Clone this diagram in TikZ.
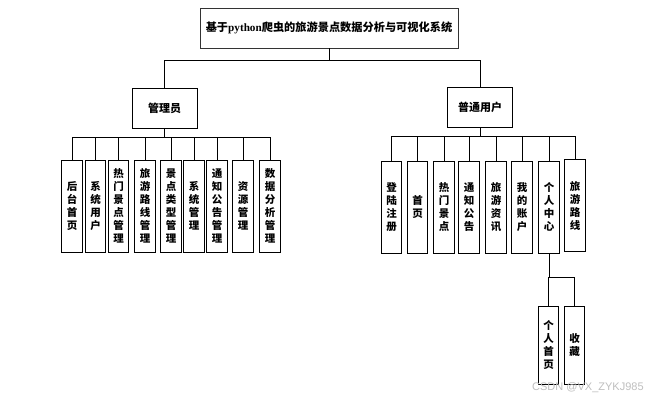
\documentclass[tikz,border=0pt]{standalone}
\usepackage{fontspec}
\setmainfont{Liberation Serif}
\newfontfamily\cjk{Noto Sans CJK SC}
\newfontfamily\wmfont{Liberation Sans}
\begin{document}
\begin{tikzpicture}[x=1pt,y=-1pt,
  conn/.style={draw=black,line width=0.9pt},
  topbox/.style={draw=black!80,line width=0.9pt,minimum width=258pt,minimum height=40pt,inner sep=0pt,font=\cjk\bfseries\fontsize{11.2}{14}\selectfont},
  midbox/.style={draw=black,line width=0.9pt,minimum width=65pt,minimum height=40pt,inner sep=0pt,font=\cjk\bfseries\fontsize{11}{13}\selectfont},
  leaf/.style={draw=black,line width=1pt,minimum width=20.5pt,minimum height=92pt,inner sep=0pt,align=center,font=\cjk\bfseries\fontsize{10.5}{13}\selectfont},
  subleaf/.style={leaf,minimum height=78pt},
  wm/.style={font=\wmfont\fontsize{11}{13}\selectfont,text=black!25,inner sep=0pt}
]
\useasboundingbox[fill=white] (0,0) rectangle (655,402);

% title
\node[topbox] (top) at (329,28) {基于\textrm{\bfseries python}爬虫的旅游景点数据分析与可视化系统};

% second level
\node[midbox] (admin) at (164.5,108) {管理员};
\node[midbox] (user) at (480,107) {普通用户};

\coordinate (tbus) at (329,60);
\draw[conn] (top.south) -- (tbus);
\draw[conn] (admin.north) |- (tbus);
\draw[conn] (user.north) |- (tbus);

% admin leaves
\node[leaf] (a1) at (72,206) {后\\台\\首\\页};
\node[leaf] (a2) at (95.5,206) {系\\统\\用\\户};
\node[leaf] (a3) at (118.5,206) {热\\门\\景\\点\\管\\理};
\node[leaf] (a4) at (145,206) {旅\\游\\路\\线\\管\\理};
\node[leaf] (a5) at (171,206) {景\\点\\类\\型\\管\\理};
\node[leaf] (a6) at (194,206) {系\\统\\管\\理};
\node[leaf] (a7) at (217,206) {通\\知\\公\\告\\管\\理};
\node[leaf] (a8) at (243,206) {资\\源\\管\\理};
\node[leaf] (a9) at (270,206) {数\\据\\分\\析\\管\\理};

\coordinate (abus) at (164.5,137);
\draw[conn] (admin.south) -- (abus);
\foreach \n in {a1,a2,a3,a4,a5,a6,a7,a8,a9}{
  \draw[conn] (\n.north) |- (abus);
}

% user leaves
\node[leaf] (u1) at (391.5,207) {登\\陆\\注\\册};
\node[leaf] (u2) at (417.5,207) {首\\页};
\node[leaf] (u3) at (444,207) {热\\门\\景\\点};
\node[leaf] (u4) at (469,207) {通\\知\\公\\告};
\node[leaf] (u5) at (496,207) {旅\\游\\资\\讯};
\node[leaf] (u6) at (522,207) {我\\的\\账\\户};
\node[leaf] (u7) at (549,207) {个\\人\\中\\心};
\node[leaf] (u8) at (575,205.5) {旅\\游\\路\\线};

\coordinate (ubus) at (480,136);
\draw[conn] (user.south) -- (ubus);
\foreach \n in {u1,u2,u3,u4,u5,u6,u7,u8}{
  \draw[conn] (\n.north) |- (ubus);
}

% personal center children
\node[subleaf] (c1) at (548.5,345) {个\\人\\首\\页};
\node[subleaf] (c2) at (574.5,345) {收\\藏};

\coordinate (cbus) at (549,277);
\draw[conn] (u7.south) -- (cbus);
\draw[conn] (c1.north) |- (cbus);
\draw[conn] (c2.north) |- (cbus);

% watermark
\node[wm,anchor=west] (wmk) at (532,388) {CSDN @VX\_ZYKJ985};
\end{tikzpicture}
\end{document}
